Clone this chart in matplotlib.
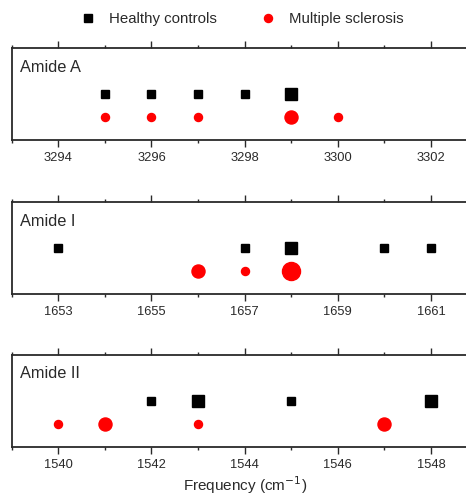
import matplotlib
matplotlib.use('Agg')
import matplotlib.pyplot as plt
from matplotlib.lines import Line2D
from matplotlib.ticker import MultipleLocator

plt.rcParams['font.family'] = ['Liberation Sans', 'DejaVu Sans']

# band names and x ranges
bands = ['Amide A', 'Amide I', 'Amide II']
xmins = [3293, 1652, 1539]

# healthy controls: frequency, count
hc_freq = [[3295, 3296, 3297, 3298, 3299],
           [1653, 1657, 1658, 1660, 1661],
           [1542, 1543, 1545, 1548]]
hc_count = [[1, 1, 1, 1, 2],
            [1, 1, 2, 1, 1],
            [1, 2, 1, 2]]

# multiple sclerosis: frequency, count
ms_freq = [[3295, 3296, 3297, 3299, 3300],
           [1656, 1657, 1658],
           [1540, 1541, 1543, 1547]]
ms_count = [[1, 1, 1, 2, 1],
            [2, 1, 3],
            [1, 2, 1, 2]]

dark = '#2a2a2a'
fig = plt.figure(figsize=(4.66, 4.98), dpi=100)

bottoms = [0.719, 0.410, 0.103]
axes = []
for i in range(3):
  ax = fig.add_axes([0.025, bottoms[i], 1.0, 0.185])
  axes.append(ax)
  for f, c in zip(hc_freq[i], hc_count[i]):
    ax.plot(f, 0.5, 's', color='black', ms=1.6 + 3.6*c, mec='black')
  for f, c in zip(ms_freq[i], ms_count[i]):
    ax.plot(f, 0.25, 'o', color='red', ms=2.2 + 3.6*c, mec='red')
  ax.set_xlim(xmins[i], xmins[i] + 10)
  ax.set_ylim(0, 1)
  ax.xaxis.set_major_locator(MultipleLocator(2))
  ax.xaxis.set_minor_locator(MultipleLocator(1))
  ax.set_xticks([xmins[i] + 1 + 2*k for k in range(5)])
  ax.tick_params(axis='x', which='both', direction='out', top=True,
                 colors=dark, labelsize=9.3, width=1.0)
  ax.tick_params(axis='x', which='major', length=5)
  ax.tick_params(axis='x', which='minor', length=2.5)
  ax.tick_params(axis='y', left=False, labelleft=False)
  for s in ax.spines.values():
    s.set_color(dark); s.set_linewidth(1.3)
  ax.text(0.018, 0.79, bands[i], transform=ax.transAxes, fontsize=11.8,
          color=dark, va='center', ha='left')

axes[2].set_xlabel('Frequency (cm$^{-1}$)', fontsize=11, color=dark, labelpad=3)

# legend
h1 = Line2D([], [], ls='none', marker='s', color='black', ms=5.2)
h2 = Line2D([], [], ls='none', marker='o', color='red', ms=5.8)
fig.legend([h1, h2], ['Healthy controls', 'Multiple sclerosis'], ncol=2,
           loc='center', bbox_to_anchor=(0.52, 0.962), frameon=False,
           fontsize=10.8, handlelength=1, handletextpad=0.9, columnspacing=2.93,
           labelcolor=dark)

plt.savefig('out.png', dpi=100)
